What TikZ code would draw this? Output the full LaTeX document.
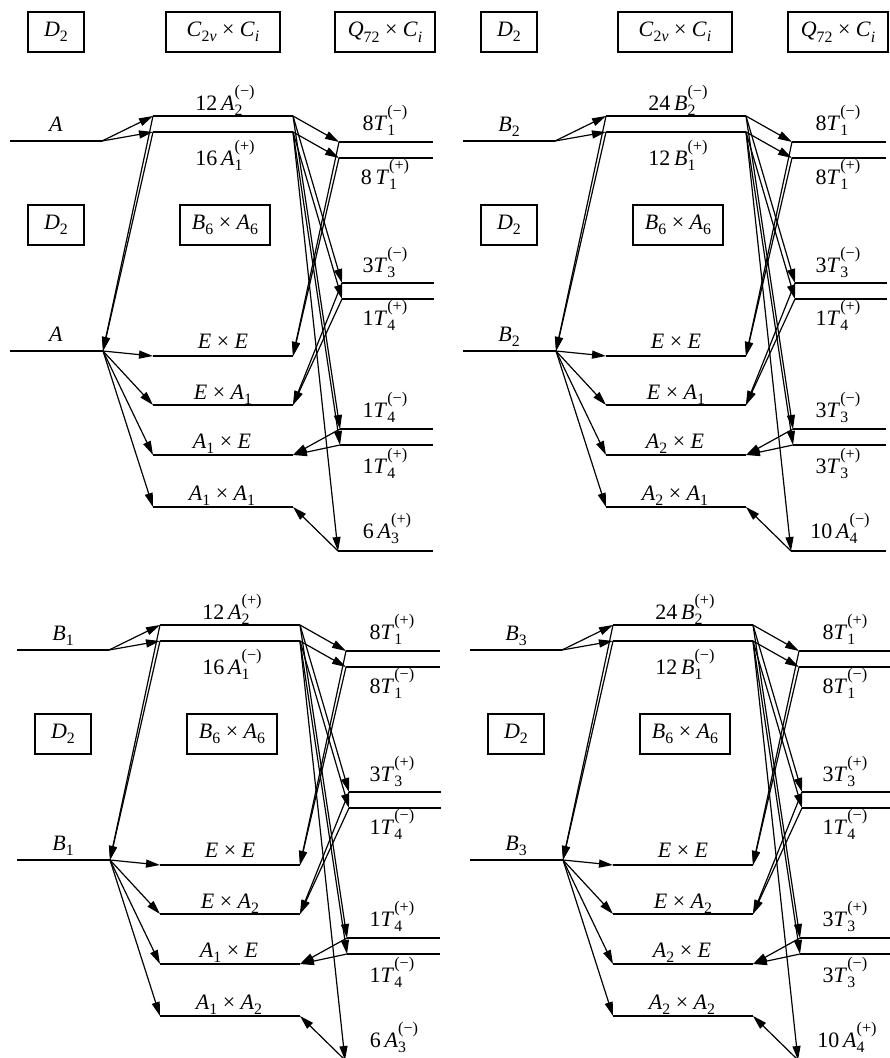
\documentclass[tikz,border=0pt]{standalone}
\usepackage{fontspec}
\setmainfont{Liberation Serif}
\usepackage{graphicx}
\usetikzlibrary{arrows.meta}
\newcommand{\It}[1]{\textit{#1}}
\newcommand{\Sb}[1]{\raisebox{-0.25em}{\scalebox{0.72}{#1}}}
\newcommand{\SbSp}[2]{\setbox0=\hbox{\scalebox{0.72}{#1}}\setbox2=\hbox{\scalebox{0.74}{#2}}\rlap{\raisebox{-0.25em}{\copy0}}\raisebox{0.6em}{\copy2}}
\newcommand{\Panel}[2]{%
\begin{scope}[shift={#1},name prefix=#2-]
 \coordinate (d1l) at (10,141);  \coordinate (d1r) at (102,141);
 \coordinate (cul) at (153,116); \coordinate (cur) at (293,116);
 \coordinate (cll) at (153,132); \coordinate (clr) at (293,132);
 \coordinate (q1al) at (339,142); \coordinate (q1ar) at (433,142);
 \coordinate (q1bl) at (339,158); \coordinate (q1br) at (433,158);
 \coordinate (q2al) at (342,283); \coordinate (q2ar) at (434,283);
 \coordinate (q2bl) at (342,299); \coordinate (q2br) at (434,299);
 \coordinate (q3al) at (340,429); \coordinate (q3ar) at (433,429);
 \coordinate (q3bl) at (340,445); \coordinate (q3br) at (433,445);
 \coordinate (q4l) at (338,551);  \coordinate (q4r) at (433,551);
 \coordinate (d2l) at (10,351);  \coordinate (d2r) at (103,351);
 \coordinate (b1l) at (153,356); \coordinate (b1r) at (293,356);
 \coordinate (b2l) at (153,405); \coordinate (b2r) at (293,405);
 \coordinate (b3l) at (153,455); \coordinate (b3r) at (293,455);
 \coordinate (b4l) at (153,507); \coordinate (b4r) at (293,507);
 % levels
 \draw[lvl] (d1l) -- (d1r);
 \draw[lvl] (cul) -- (cur);
 \draw[lvl] (cll) -- (clr);
 \draw[lvl] (q1al) -- (q1ar);
 \draw[lvl] (q1bl) -- (q1br);
 \draw[lvl] (q2al) -- (q2ar);
 \draw[lvl] (q2bl) -- (q2br);
 \draw[lvl] (q3al) -- (q3ar);
 \draw[lvl] (q3bl) -- (q3br);
 \draw[lvl] (q4l) -- (q4r);
 \draw[lvl] (d2l) -- (d2r);
 \draw[lvl] (b1l) -- (b1r);
 \draw[lvl] (b2l) -- (b2r);
 \draw[lvl] (b3l) -- (b3r);
 \draw[lvl] (b4l) -- (b4r);
 % labels
 \node[lab] (la1) at (56,131) {\LA};
 \node[lab] (la2) at (56,341) {\LA};
 \node[lab] (lu) at (225,110) {\LU};
 \node[lab] (ll) at (225,165) {\LL};
 \node[lab] (qa) at (385,130) {\QA};
 \node[lab] (qb) at (385,184) {\QB};
 \node[lab] (qc) at (385,272) {\QC};
 \node[lab] (qd) at (385,325) {\QD};
 \node[lab] (qe) at (385,417) {\QE};
 \node[lab] (qf) at (385,473) {\QF};
 \node[lab] (qg) at (387,538) {\QG};
 \node[lab] (ba) at (223,348) {\It{E} × \It{E}};
 \node[lab] (bb) at (223,399) {\BB};
 \node[lab] (bc) at (222,448) {\BC};
 \node[lab] (bd) at (222,500) {\BD};
 \node[gbox,minimum width=42pt] (xd) at (56,225) {\It{D}\Sb{2}};
 \node[gbox,minimum width=67.5pt] (xb) at (225,225) {\It{B}\Sb{6} × \It{A}\Sb{6}};
 % connectors
 \draw[arr] (d1r) -- (cul);
 \draw[arr] (d1r) -- (cll);
 \draw[arr] (cul) -- (d2r);
 \draw[arr] (cll) -- (d2r);
 \draw[arr] (cur) -- (q1al);
 \draw[arr] (clr) -- (q1bl);
 \draw[arr] (cur) -- (q2al);
 \draw[arr] (clr) -- (q2bl);
 \draw[arr] (cur) -- (q3al);
 \draw[arr] (clr) -- (q3bl);
 \draw[arr] (clr) -- (q4l);
 \draw[arr] (q1al) -- (b1r);
 \draw[arr] (q1bl) -- (b1r);
 \draw[arr] (q2al) -- (b2r);
 \draw[arr] (q2bl) -- (b2r);
 \draw[arr] (q3al) -- (b3r);
 \draw[arr] (q3bl) -- (b3r);
 \draw[arr] (q4l) -- (b4r);
 \draw[arr] (d2r) -- (b1l);
 \draw[arr] (d2r) -- (b2l);
 \draw[arr] (d2r) -- (b3l);
 \draw[arr] (d2r) -- (b4l);
\end{scope}}
\begin{document}
\begin{tikzpicture}[x=0.75pt,y=-0.75pt,
  lvl/.style={line width=1.4pt},
  arr/.style={line width=0.9pt,-{Triangle[length=10.5pt,width=6pt]}},
  lab/.style={anchor=base,inner sep=0pt,font=\fontsize{16.5}{19}\selectfont},
  gbox/.style={draw,line width=1.2pt,inner sep=0pt,minimum height=30pt,font=\fontsize{16.5}{19}\selectfont}]
\useasboundingbox (0,0) rectangle (890,1058);
\clip (0,0) rectangle (890,1058);
% header boxes
\node[gbox,minimum width=42pt] (h1) at (56,32) {\It{D}\Sb{2}};
\node[gbox,minimum width=85.5pt] (h2) at (223,32) {\It{C}\Sb{2\It{v}} × \It{C}\Sb{\It{i}}};
\node[gbox,minimum width=75pt] (h3) at (385,32) {\It{Q}\Sb{72} × \It{C}\Sb{\It{i}}};
\node[gbox,minimum width=42pt] (h4) at (509,32) {\It{D}\Sb{2}};
\node[gbox,minimum width=85.5pt] (h5) at (675,32) {\It{C}\Sb{2\It{v}} × \It{C}\Sb{\It{i}}};
\node[gbox,minimum width=75pt] (h6) at (838,32) {\It{Q}\Sb{72} × \It{C}\Sb{\It{i}}};
% top-left
\def\LA{\It{A}}
\def\LU{12\,\It{A}\SbSp{2}{(−)}}
\def\LL{16\,\It{A}\SbSp{1}{(+)}}
\def\QA{8\It{T}\SbSp{1}{(−)}}
\def\QB{8\,\It{T}\SbSp{1}{(+)}}
\def\QC{3\It{T}\SbSp{3}{(−)}}
\def\QD{1\It{T}\SbSp{4}{(+)}}
\def\QE{1\It{T}\SbSp{4}{(−)}}
\def\QF{1\It{T}\SbSp{4}{(+)}}
\def\QG{6\,\It{A}\SbSp{3}{(+)}}
\def\BB{\It{E} × \It{A}\Sb{1}}
\def\BC{\It{A}\Sb{1} × \It{E}}
\def\BD{\It{A}\Sb{1} × \It{A}\Sb{1}}
\Panel{(0,0)}{tl}
% top-right
\def\LA{\It{B}\Sb{2}}
\def\LU{24\,\It{B}\SbSp{2}{(−)}}
\def\LL{12\,\It{B}\SbSp{1}{(+)}}
\def\QA{8\It{T}\SbSp{1}{(−)}}
\def\QB{8\It{T}\SbSp{1}{(+)}}
\def\QC{3\It{T}\SbSp{3}{(−)}}
\def\QD{1\It{T}\SbSp{4}{(+)}}
\def\QE{3\It{T}\SbSp{3}{(−)}}
\def\QF{3\It{T}\SbSp{3}{(+)}}
\def\QG{10\,\It{A}\SbSp{4}{(−)}}
\def\BB{\It{E} × \It{A}\Sb{1}}
\def\BC{\It{A}\Sb{2} × \It{E}}
\def\BD{\It{A}\Sb{2} × \It{A}\Sb{1}}
\Panel{(453,0)}{tr}
% bottom-left
\def\LA{\It{B}\Sb{1}}
\def\LU{12\,\It{A}\SbSp{2}{(+)}}
\def\LL{16\,\It{A}\SbSp{1}{(−)}}
\def\QA{8\It{T}\SbSp{1}{(+)}}
\def\QB{8\It{T}\SbSp{1}{(−)}}
\def\QC{3\It{T}\SbSp{3}{(+)}}
\def\QD{1\It{T}\SbSp{4}{(−)}}
\def\QE{1\It{T}\SbSp{4}{(+)}}
\def\QF{1\It{T}\SbSp{4}{(−)}}
\def\QG{6\,\It{A}\SbSp{3}{(−)}}
\def\BB{\It{E} × \It{A}\Sb{2}}
\def\BC{\It{A}\Sb{1} × \It{E}}
\def\BD{\It{A}\Sb{1} × \It{A}\Sb{2}}
\Panel{(7,509)}{bl}
% bottom-right
\def\LA{\It{B}\Sb{3}}
\def\LU{24\,\It{B}\SbSp{2}{(+)}}
\def\LL{12\,\It{B}\SbSp{1}{(−)}}
\def\QA{8\It{T}\SbSp{1}{(+)}}
\def\QB{8\It{T}\SbSp{1}{(−)}}
\def\QC{3\It{T}\SbSp{3}{(+)}}
\def\QD{1\It{T}\SbSp{4}{(−)}}
\def\QE{3\It{T}\SbSp{3}{(+)}}
\def\QF{3\It{T}\SbSp{3}{(−)}}
\def\QG{10\,\It{A}\SbSp{4}{(+)}}
\def\BB{\It{E} × \It{A}\Sb{2}}
\def\BC{\It{A}\Sb{2} × \It{E}}
\def\BD{\It{A}\Sb{2} × \It{A}\Sb{2}}
\Panel{(460,509)}{br}
\end{tikzpicture}
\end{document}
